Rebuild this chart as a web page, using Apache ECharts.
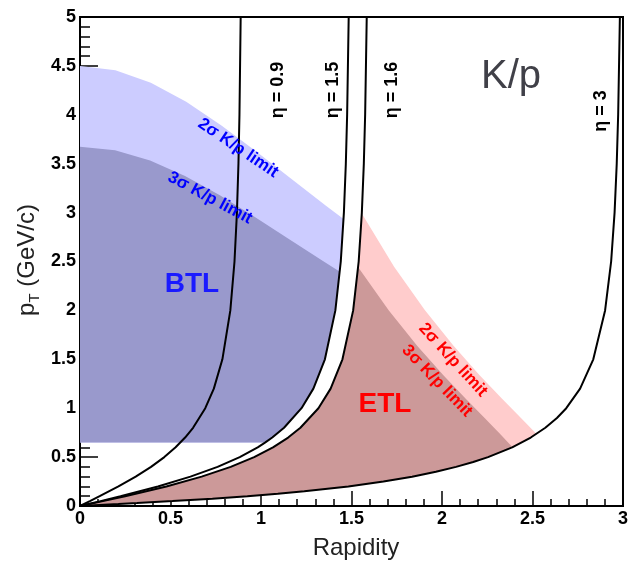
<!DOCTYPE html>
<html>
<head>
<meta charset="utf-8">
<script src="https://cdn.jsdelivr.net/npm/echarts@6/dist/echarts.min.js"></script>
<style>
html,body{margin:0;padding:0;background:#fff;}
#c{width:631px;height:564px;}
</style>
</head>
<body>
<div id="c"></div>
<script>
// ---------- data (rapidity, pT) ----------
const xTickLabels = ['0','0.5','1','1.5','2','2.5','3'];
const yTickLabels = ['0','0.5','1','1.5','2','2.5','3','3.5','4','4.5','5'];
const etaLabels = ['\u03b7 = 0.9','\u03b7 = 1.5','\u03b7 = 1.6','\u03b7 = 3'];

const eta09 = [[0,0],[0.0546,0.05],[0.1086,0.1],[0.2124,0.2],[0.3078,0.3],[0.3925,0.4],[0.4659,0.5],[0.5282,0.6],[0.5807,0.7],[0.6247,0.8],[0.6921,1.0],[0.7395,1.2],[0.7867,1.5],[0.8306,2.0],[0.8536,2.5],[0.8670,3.0],[0.8754,3.5],[0.8810,4.0],[0.8877,5.0]];
const eta15 = [[0,0],[0.1131,0.05],[0.2239,0.1],[0.4306,0.2],[0.6101,0.3],[0.7600,0.4],[0.8825,0.5],[0.9818,0.6],[1.0241,0.65],[1.0622,0.7],[1.1273,0.8],[1.2239,1.0],[1.2894,1.2],[1.3531,1.5],[1.4109,2.0],[1.4408,2.5],[1.4580,3.0],[1.4687,3.5],[1.4759,4.0],[1.4845,5.0]];
const eta16 = [[0,0],[0.1261,0.05],[0.2492,0.1],[0.4770,0.2],[0.6719,0.3],[0.8325,0.4],[0.9621,0.5],[1.0662,0.6],[1.1500,0.7],[1.2176,0.8],[1.3173,1.0],[1.3847,1.2],[1.4500,1.5],[1.5092,2.0],[1.5397,2.5],[1.5572,3.0],[1.5681,3.5],[1.5754,4.0],[1.5842,5.0]];
const eta30 = [[0,0],[0.1066,0.01],[0.2120,0.02],[0.3150,0.03],[0.5108,0.05],[0.7315,0.075],[0.9246,0.1],[1.0926,0.125],[1.2393,0.15],[1.4826,0.2],[1.6765,0.25],[1.8346,0.3],[1.9663,0.35],[2.0776,0.4],[2.1725,0.45],[2.2544,0.5],[2.3877,0.6],[2.4904,0.7],[2.5709,0.8],[2.6350,0.9],[2.6866,1.0],[2.7631,1.2],[2.8359,1.5],[2.9011,2.0],[2.9345,2.5],[2.9535,3.0],[2.9654,3.5],[2.9733,4.0],[2.9828,5.0]];

const btlMinPt = 0.65;
const btl2Limit = [[0,4.5],[0.1957,4.4557],[0.3914,4.3280],[0.5867,4.1330],[0.7814,3.8912],[0.9755,3.6226],[1.1686,3.3442],[1.3606,3.0683],[1.4562,2.9340]];
const btl3Limit = [[0,3.674],[0.1937,3.6378],[0.3873,3.5335],[0.5803,3.3743],[0.7726,3.1769],[0.9639,2.9577],[1.1538,2.7304],[1.3423,2.5051],[1.4359,2.3955]];
const etl2Limit = [[1.5570,2.9905],[1.7353,2.4473],[1.9048,2.0034],[2.0625,1.6400],[2.2052,1.3427],[2.3305,1.0993],[2.4364,0.9000],[2.5224,0.7369]];
const etl3Limit = [[1.5369,2.4417],[1.7063,1.9982],[1.8637,1.6357],[2.0063,1.3391],[2.1312,1.0963],[2.2368,0.8976],[2.3226,0.7348],[2.3896,0.6016]];

// ---------- region outlines built from the curves ----------
function btlPoly(limit) {
  const end = limit[limit.length - 1][1];
  const side = eta15.filter(p => p[1] < end && p[1] >= btlMinPt).reverse();
  return [[0, btlMinPt]].concat(limit, side);
}
function etlPoly(limit) {
  const start = limit[0][1], end = limit[limit.length - 1][1];
  const left = eta16.filter(p => p[1] < start);
  const bottom = eta30.filter(p => p[1] < end).reverse();
  return left.concat(limit, bottom);
}

const FONT = '"Liberation Sans", Arial, Helvetica, sans-serif';

function polygonSeries(name, pts, color, z) {
  return {
    name: name, type: 'custom', coordinateSystem: 'cartesian2d', silent: true, z: z,
    data: [[1, 1]], clip: true, animation: false,
    renderItem: function (params, api) {
      return { type: 'polygon', shape: { points: pts.map(p => api.coord(p)) }, style: { fill: color } };
    }
  };
}
function curveSeries(name, pts) {
  return {
    name: name, type: 'line', data: pts, showSymbol: false, symbol: 'none', silent: true,
    z: 5, animation: false, clip: true, lineStyle: { color: '#000', width: 2 }
  };
}
function label(text, x, y, deg, size, weight, color) {
  return {
    type: 'text', x: x, y: y, rotation: deg * Math.PI / 180, z: 100, silent: true,
    style: {
      text: text, fill: color, font: weight + ' ' + size + 'px ' + FONT,
      align: 'center', verticalAlign: 'middle', textAlign: 'center', textVerticalAlign: 'middle'
    }
  };
}

const chart = echarts.init(document.getElementById('c'));
const tickLine = { color: '#000', width: 1.5 };
const labelStyle = { color: '#000', fontSize: 18, fontWeight: 'bold', fontFamily: FONT };

chart.setOption({
  animation: false,
  backgroundColor: '#fff',
  grid: { left: 80, right: 3, top: 17, bottom: 58, show: true, borderColor: '#000', borderWidth: 2, backgroundColor: 'transparent' },
  xAxis: {
    type: 'value', min: 0, max: 3, interval: 0.5,
    axisLine: { show: true, onZero: false, lineStyle: { color: '#000', width: 2 } },
    axisTick: { show: true, inside: true, length: 15, lineStyle: tickLine },
    minorTick: { show: true, splitNumber: 5, length: 7, lineStyle: tickLine },
    splitLine: { show: false },
    axisLabel: Object.assign({ margin: 4, formatter: v => xTickLabels[Math.round(v / 0.5)] }, labelStyle)
  },
  yAxis: {
    type: 'value', min: 0, max: 5, interval: 0.5,
    axisLine: { show: true, onZero: false, lineStyle: { color: '#000', width: 2 } },
    axisTick: { show: true, inside: true, length: 18, lineStyle: tickLine },
    minorTick: { show: true, splitNumber: 5, length: 10, lineStyle: tickLine },
    splitLine: { show: false },
    axisLabel: Object.assign({ margin: 4, formatter: v => yTickLabels[Math.round(v / 0.5)] }, labelStyle)
  },
  series: [
    polygonSeries('BTL 2sigma', btlPoly(btl2Limit), '#ccccff', 2),
    polygonSeries('BTL 3sigma', btlPoly(btl3Limit), '#9999cc', 3),
    polygonSeries('ETL 2sigma', etlPoly(etl2Limit), '#ffcccc', 2),
    polygonSeries('ETL 3sigma', etlPoly(etl3Limit), '#cc9999', 3),
    curveSeries('eta 0.9', eta09),
    curveSeries('eta 1.5', eta15),
    curveSeries('eta 1.6', eta16),
    curveSeries('eta 3', eta30)
  ],
  graphic: [
    label('K/p', 511, 77, 0, 40, 'normal', '#404048'),
    label('BTL', 192, 284, 0, 28, 'bold', '#1a1aff'),
    label('ETL', 385, 404, 0, 28, 'bold', '#ff0000'),
    label('2\u03c3 K/p limit', 238, 148, -34, 17, 'bold', '#0000ff'),
    label('3\u03c3 K/p limit', 210, 198, -28, 17, 'bold', '#0000ff'),
    label('2\u03c3 K/p limit', 453, 360, -47.6, 17, 'bold', '#ff0000'),
    label('3\u03c3 K/p limit', 437, 381, -46, 17, 'bold', '#ff0000'),
    label(etaLabels[0], 278, 90, 90, 18, 'bold', '#000'),
    label(etaLabels[1], 333, 90, 90, 18, 'bold', '#000'),
    label(etaLabels[2], 392, 90, 90, 18, 'bold', '#000'),
    label(etaLabels[3], 601, 111, 90, 18, 'bold', '#000'),
    label('Rapidity', 356, 548, 0, 24, 'normal', '#222'),
    {
      type: 'text', x: 27, y: 260, rotation: Math.PI / 2, z: 100, silent: true,
      style: {
        text: '{p|p}{s|T}{p| (GeV/c)}', fill: '#222', align: 'center', verticalAlign: 'middle',
        textAlign: 'center', textVerticalAlign: 'middle',
        rich: {
          p: { fontSize: 24, fontFamily: FONT, lineHeight: 30, fill: '#222', color: '#222' },
          s: { fontSize: 15, fontFamily: FONT, lineHeight: 15, verticalAlign: 'bottom', fill: '#222', color: '#222' }
        }
      }
    }
  ]
});
</script>
</body>
</html>
